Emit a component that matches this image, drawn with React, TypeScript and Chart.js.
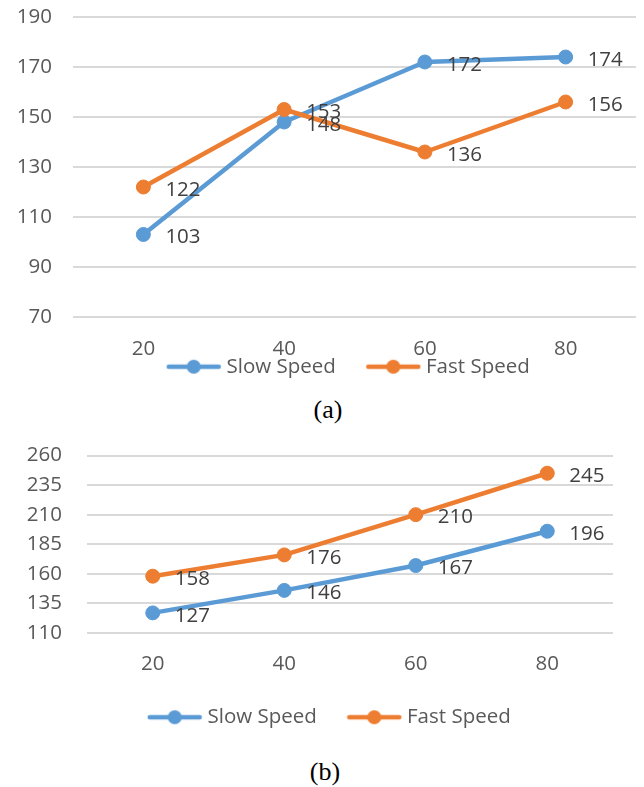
import React, { useEffect, useRef } from "react";
import { Chart, registerables } from "chart.js";

Chart.register(...registerables);

// ---- Data ----
const xLabels = ["20", "40", "60", "80"];
const seriesNames = ["Slow Speed", "Fast Speed"];
const slowA = [103, 148, 172, 174];
const fastA = [122, 153, 136, 156];
const slowB = [127, 146, 167, 196];
const fastB = [158, 176, 210, 245];
const yRangeA = [70, 190, 20];
const yRangeB = [110, 260, 25];
const captions = ["(a)", "(b)"];

// ---- Styles ----
const BLUE = "#5B9BD5";
const ORANGE = "#ED7D31";
const AXIS_TEXT = "#595959";
const LABEL_TEXT = "#404040";
const GRID = "#D9D9D9";
const FONT = "'Open Sans', 'Liberation Sans', sans-serif";
const FS = 20.5;

function makeIcon(color: string) {
  const c = document.createElement("canvas");
  c.width = 56;
  c.height = 16;
  const ctx = c.getContext("2d")!;
  ctx.strokeStyle = color;
  ctx.lineWidth = 4.5;
  ctx.lineCap = "round";
  ctx.beginPath();
  ctx.moveTo(3, 8);
  ctx.lineTo(53, 8);
  ctx.stroke();
  ctx.fillStyle = color;
  ctx.beginPath();
  ctx.arc(28, 8, 7, 0, Math.PI * 2);
  ctx.fill();
  return c;
}

const valueLabelPlugin = {
  id: "valueLabels",
  afterDatasetsDraw(chart: any) {
    const ctx = chart.ctx;
    ctx.save();
    ctx.font = `${FS}px ${FONT}`;
    ctx.fillStyle = LABEL_TEXT;
    ctx.textAlign = "left";
    ctx.textBaseline = "alphabetic";
    chart.data.datasets.forEach((ds: any, i: number) => {
      const meta = chart.getDatasetMeta(i);
      meta.data.forEach((el: any, j: number) => {
        ctx.fillText(String(ds.data[j]), el.x + 22, el.y + 8.8);
      });
    });
    ctx.restore();
  },
};

// Place the legend box (keeps the library's own legend drawing)
const legendPlacePlugin = {
  id: "legendPlace",
  afterLayout(chart: any, _args: any, opts: any) {
    const lg = chart.legend;
    if (!lg) return;
    const w = lg.width;
    const h = lg.height;
    lg.left = opts.cx - w / 2;
    lg.right = lg.left + w;
    lg.top = opts.top;
    lg.bottom = opts.top + h;
  },
};

type Opts = {
  slow: number[];
  fast: number[];
  yr: number[];
  padding: { top: number; left: number; right: number; bottom: number };
  yW: number;
  yPad: number;
  xH: number;
  xPad: number;
  legendCx: number;
  legendTop: number;
};

function buildConfig(o: Opts): any {
  const icons = [makeIcon(BLUE), makeIcon(ORANGE)];
  const ds = (label: string, data: number[], color: string, order: number) => ({
    label,
    data,
    borderColor: color,
    backgroundColor: color,
    borderWidth: 4.5,
    borderJoinStyle: "round",
    borderCapStyle: "round",
    pointRadius: 7,
    pointBorderWidth: 1,
    pointBackgroundColor: color,
    pointBorderColor: color,
    tension: 0,
    clip: false,
    order,
  });
  return {
    type: "line",
    data: {
      labels: xLabels,
      datasets: [ds(seriesNames[0], o.slow, BLUE, 1), ds(seriesNames[1], o.fast, ORANGE, 0)],
    },
    options: {
      responsive: false,
      animation: false,
      devicePixelRatio: 1,
      layout: { padding: o.padding },
      scales: {
        x: {
          type: "category",
          offset: true,
          grid: { display: false },
          border: { display: false },
          ticks: {
            color: AXIS_TEXT,
            font: { family: FONT, size: FS },
            padding: o.xPad,
            maxRotation: 0,
            autoSkip: false,
          },
          afterFit: (s: any) => {
            s.height = o.xH;
            s.paddingLeft = 0;
            s.paddingRight = 0;
          },
        },
        y: {
          min: o.yr[0],
          max: o.yr[1],
          ticks: {
            stepSize: o.yr[2],
            color: AXIS_TEXT,
            font: { family: FONT, size: FS },
            padding: o.yPad,
          },
          grid: { color: GRID, lineWidth: 2, drawTicks: false },
          border: { display: false },
          afterFit: (s: any) => {
            s.width = o.yW;
            s.paddingTop = 0;
            s.paddingBottom = 0;
          },
        },
      },
      plugins: {
        tooltip: { enabled: false },
        legendPlace: { cx: o.legendCx, top: o.legendTop },
        legend: {
          position: "bottom",
          labels: {
            usePointStyle: true,
            pointStyleWidth: 45,
            padding: 35,
            color: AXIS_TEXT,
            font: { family: FONT, size: FS },
            generateLabels: (chart: any) => {
              const items = (Chart as any).defaults.plugins.legend.labels.generateLabels(chart);
              items.sort((a: any, b: any) => a.datasetIndex - b.datasetIndex);
              items.forEach((it: any) => {
                it.pointStyle = icons[it.datasetIndex];
              });
              return items;
            },
          },
        },
      },
    },
    plugins: [valueLabelPlugin, legendPlacePlugin],
  };
}

function LineChart({ top, height, opts }: { top: number; height: number; opts: Opts }) {
  const ref = useRef<HTMLCanvasElement>(null);
  useEffect(() => {
    const chart = new Chart(ref.current!, buildConfig(opts));
    return () => chart.destroy();
  }, []);
  return (
    <canvas
      ref={ref}
      width={644}
      height={height}
      style={{ position: "absolute", left: 0, top, width: 644, height, display: "block" }}
    />
  );
}

function Caption({ text, cx, top }: { text: string; cx: number; top: number }) {
  return (
    <div
      style={{
        position: "absolute",
        left: cx - 50,
        top,
        width: 100,
        textAlign: "center",
        fontFamily: "'Liberation Serif', 'Times New Roman', serif",
        fontSize: 26,
        lineHeight: "26px",
        color: "#000",
      }}
    >
      {text}
    </div>
  );
}

export default function App() {
  // Chart (a): canvas at page y=0
  const optsA: Opts = {
    slow: slowA,
    fast: fastA,
    yr: yRangeA,
    padding: { top: 17, left: 0, right: 7, bottom: 0.5 },
    yW: 73,
    yPad: 21,
    xH: 50,
    xPad: 11.5,
    legendCx: 350.5,
    legendTop: 321.5,
  };
  // Chart (b): canvas at page y=440
  const optsB: Opts = {
    slow: slowB,
    fast: fastB,
    yr: yRangeB,
    padding: { top: 15.5, left: 0, right: 31, bottom: 0.5 },
    yW: 87,
    yPad: 25,
    xH: 50,
    xPad: 10.5,
    legendCx: 331.5,
    legendTop: 232,
  };
  return (
    <div style={{ position: "absolute", left: 0, top: 0, width: 644, height: 787, background: "#fff" }}>
      <Caption text={captions[0]} cx={328} top={397} />
      <Caption text={captions[1]} cx={325} top={759} />
      <LineChart top={0} height={433} opts={optsA} />
      <LineChart top={440} height={309} opts={optsB} />
    </div>
  );
}
